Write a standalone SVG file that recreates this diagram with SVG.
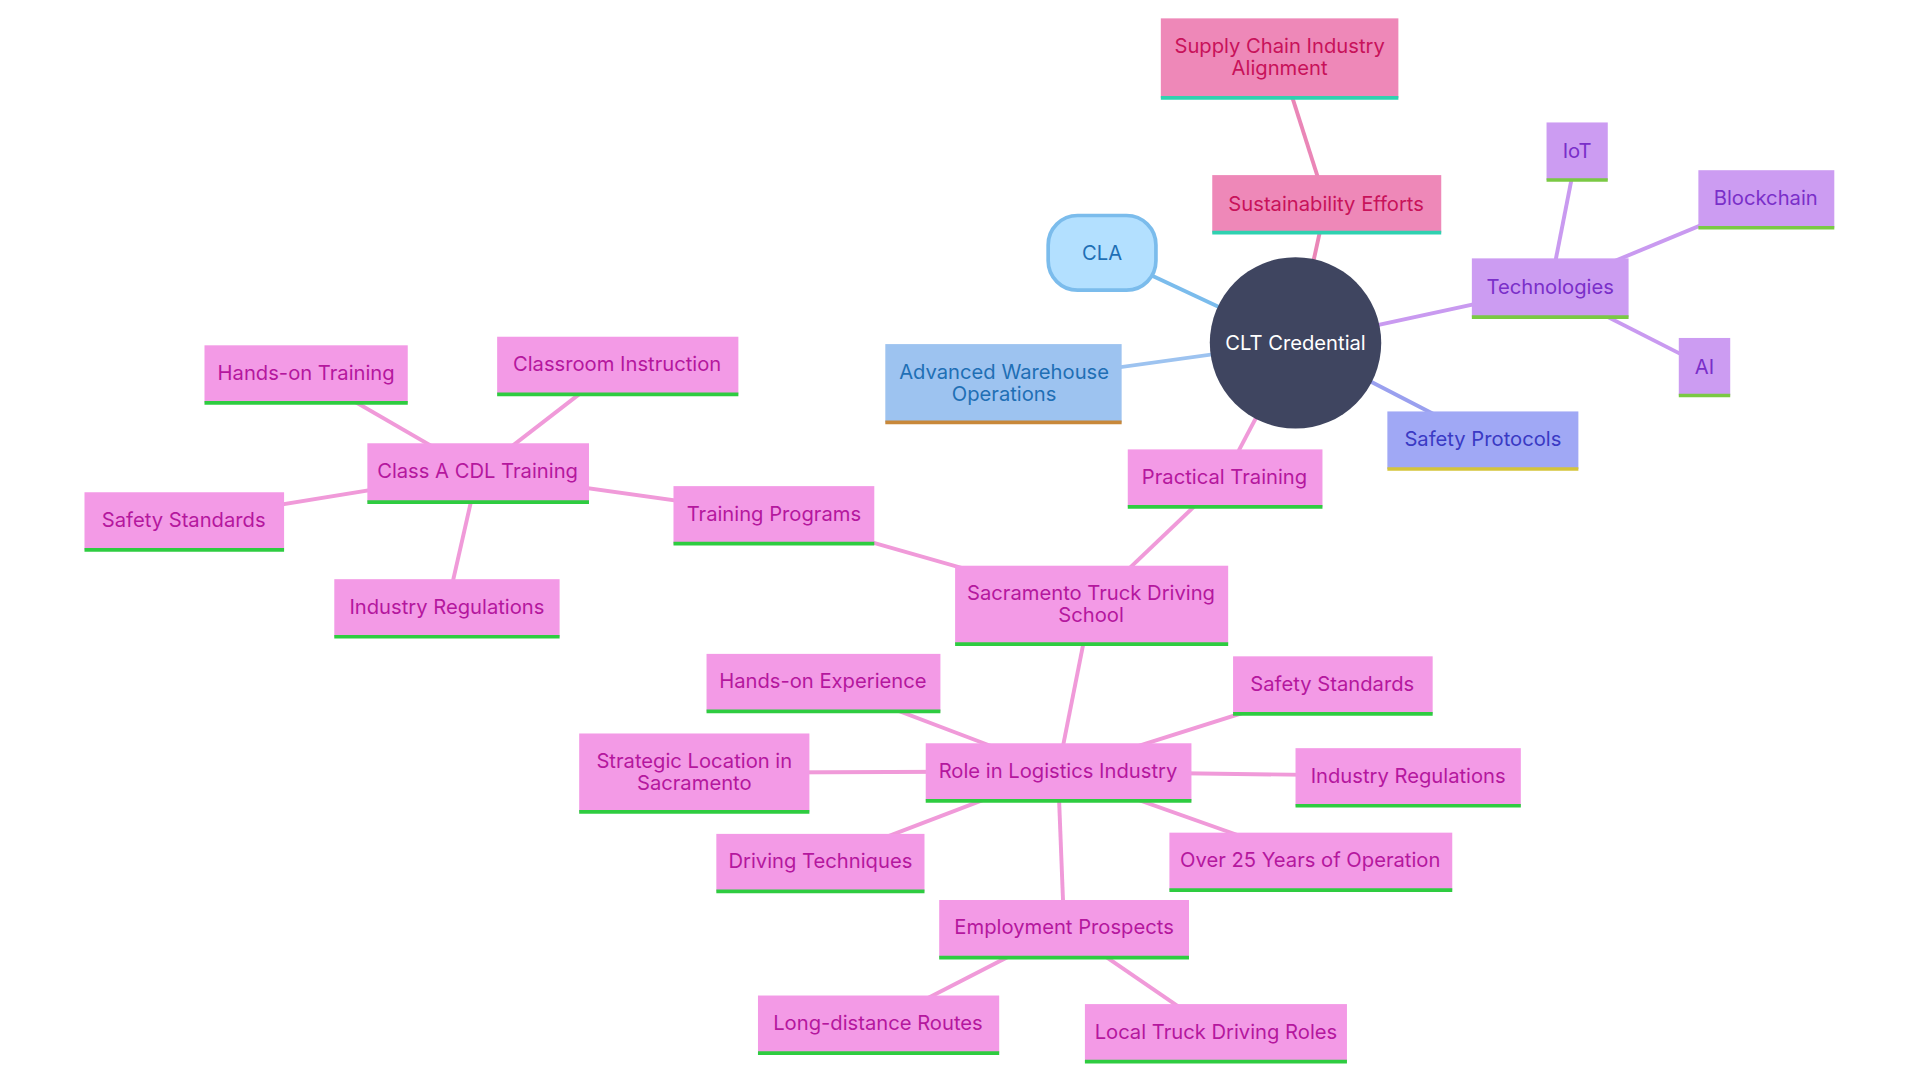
<svg xmlns="http://www.w3.org/2000/svg" width="1920" height="1080" viewBox="0 0 1920 1080">
<style>
text{font-family:Inter,"Noto Sans",sans-serif;font-size:16.5px;text-anchor:middle;dominant-baseline:central}
.p rect{fill:#f39ae6}.p text{fill:#b5179e}.p line{stroke:#2ecc40}
.v rect{fill:#cc9cf2}.v text{fill:#7a2fc9}.v line{stroke:#7ac943}
.r rect{fill:#ee88b8}.r text{fill:#c8125a}.r line{stroke:#2fd1b0}
.bl line{stroke-width:3}
#edges line{stroke-width:3.2;fill:none}
</style>
<rect width="1920" height="1080" fill="#fff"/>
<g transform="scale(1.2245)">
<g id="edges">
<line x1="1058" y1="280" x2="900" y2="206" stroke="#7bbcec"/>
<line x1="1058" y1="280" x2="820" y2="313" stroke="#9dc3f0"/>
<line x1="1058" y1="280" x2="1083" y2="166" stroke="#ea86b7"/>
<line x1="1083" y1="166" x2="1045" y2="47" stroke="#ea86b7"/>
<line x1="1058" y1="280" x2="1266" y2="235" stroke="#c99af0"/>
<line x1="1266" y1="235" x2="1288" y2="123" stroke="#c99af0"/>
<line x1="1266" y1="235" x2="1442" y2="162" stroke="#c99af0"/>
<line x1="1266" y1="235" x2="1392" y2="299" stroke="#c99af0"/>
<line x1="1058" y1="280" x2="1211" y2="359" stroke="#9aa0ef"/>
<g stroke="#f09ad9">
<line x1="1058" y1="280" x2="1000" y2="390"/>
<line x1="1000" y1="390" x2="891" y2="494"/>
<line x1="891" y1="494" x2="632" y2="420"/>
<line x1="632" y1="420" x2="390" y2="386"/>
<line x1="390" y1="386" x2="250" y2="305"/>
<line x1="390" y1="386" x2="504" y2="298"/>
<line x1="390" y1="386" x2="150" y2="425"/>
<line x1="390" y1="386" x2="365" y2="496"/>
<line x1="891" y1="494" x2="864" y2="630"/>
<line x1="864" y1="630" x2="672" y2="557"/>
<line x1="864" y1="630" x2="1088" y2="559"/>
<line x1="864" y1="630" x2="567" y2="631"/>
<line x1="864" y1="630" x2="1150" y2="634"/>
<line x1="864" y1="630" x2="670" y2="704"/>
<line x1="864" y1="630" x2="1070" y2="703"/>
<line x1="864" y1="630" x2="869" y2="758"/>
<line x1="869" y1="758" x2="717" y2="836"/>
<line x1="869" y1="758" x2="993" y2="843"/>
</g>
</g>
<g id="clt"><circle cx="1058" cy="280" r="70" fill="#3f4560"/><text x="1058" y="280" style="fill:#fff">CLT Credential</text></g>
<g id="cla"><rect x="856" y="176" width="88" height="61" rx="24" fill="#b3e0ff" stroke="#7bbcec" stroke-width="3"/><text x="900" y="206" fill="#1f6fb5">CLA</text></g>
<g id="awo"><rect x="723" y="281" width="193" height="64" fill="#9dc3f0"/><line x1="723" y1="345" x2="916" y2="345" stroke="#c8883a" stroke-width="3"/><text x="820" y="303" fill="#1f6fb5">Advanced Warehouse</text><text x="820" y="321" fill="#1f6fb5">Operations</text></g>
<g id="sust" class="r bl"><rect x="990" y="143" width="187" height="47"/><line x1="990" y1="190" x2="1177" y2="190"/><text x="1083" y="166">Sustainability Efforts</text></g>
<g id="supply" class="r bl"><rect x="948" y="15" width="194" height="65"/><line x1="948" y1="80" x2="1142" y2="80"/><text x="1045" y="37">Supply Chain Industry</text><text x="1045" y="55">Alignment</text></g>
<g id="tech" class="v bl"><rect x="1202" y="211" width="128" height="48"/><line x1="1202" y1="259" x2="1330" y2="259"/><text x="1266" y="234">Technologies</text></g>
<g id="iot" class="v bl"><rect x="1263" y="100" width="50" height="47"/><line x1="1263" y1="147" x2="1313" y2="147"/><text x="1288" y="123">IoT</text></g>
<g id="bc" class="v bl"><rect x="1387" y="139" width="111" height="47"/><line x1="1387" y1="186" x2="1498" y2="186"/><text x="1442" y="161">Blockchain</text></g>
<g id="ai" class="v bl"><rect x="1371" y="276" width="42" height="47"/><line x1="1371" y1="323" x2="1413" y2="323"/><text x="1392" y="299">AI</text></g>
<g id="safety" class="bl"><rect x="1133" y="336" width="156" height="47" fill="#a0a8f5"/><line x1="1133" y1="383" x2="1289" y2="383" stroke="#d4c43a"/><text x="1211" y="358" fill="#3a3ac4">Safety Protocols</text></g>
<g id="pt" class="p bl"><rect x="921" y="367" width="159" height="47"/><line x1="921" y1="414" x2="1080" y2="414"/><text x="1000" y="389">Practical Training</text></g>
<g id="stds" class="p bl"><rect x="780" y="462" width="223" height="64"/><line x1="780" y1="526" x2="1003" y2="526"/><text x="891" y="484">Sacramento Truck Driving</text><text x="891" y="502">School</text></g>
<g id="tp" class="p bl"><rect x="550" y="397" width="164" height="47"/><line x1="550" y1="444" x2="714" y2="444"/><text x="632" y="419">Training Programs</text></g>
<g id="cdl" class="p bl"><rect x="300" y="362" width="181" height="48"/><line x1="300" y1="410" x2="481" y2="410"/><text x="390" y="384">Class A CDL Training</text></g>
<g id="hot" class="p bl"><rect x="167" y="282" width="166" height="47"/><line x1="167" y1="329" x2="333" y2="329"/><text x="250" y="304">Hands-on Training</text></g>
<g id="ci" class="p bl"><rect x="406" y="275" width="197" height="47"/><line x1="406" y1="322" x2="603" y2="322"/><text x="504" y="297">Classroom Instruction</text></g>
<g id="ss1" class="p bl"><rect x="69" y="402" width="163" height="47"/><line x1="69" y1="449" x2="232" y2="449"/><text x="150" y="424">Safety Standards</text></g>
<g id="ir1" class="p bl"><rect x="273" y="473" width="184" height="47"/><line x1="273" y1="520" x2="457" y2="520"/><text x="365" y="495">Industry Regulations</text></g>
<g id="role" class="p bl"><rect x="756" y="607" width="217" height="47"/><line x1="756" y1="654" x2="973" y2="654"/><text x="864" y="629">Role in Logistics Industry</text></g>
<g id="hoe" class="p bl"><rect x="577" y="534" width="191" height="47"/><line x1="577" y1="581" x2="768" y2="581"/><text x="672" y="556">Hands-on Experience</text></g>
<g id="ss2" class="p bl"><rect x="1007" y="536" width="163" height="47"/><line x1="1007" y1="583" x2="1170" y2="583"/><text x="1088" y="558">Safety Standards</text></g>
<g id="sl" class="p bl"><rect x="473" y="599" width="188" height="64"/><line x1="473" y1="663" x2="661" y2="663"/><text x="567" y="621">Strategic Location in</text><text x="567" y="639">Sacramento</text></g>
<g id="ir2" class="p bl"><rect x="1058" y="611" width="184" height="47"/><line x1="1058" y1="658" x2="1242" y2="658"/><text x="1150" y="633">Industry Regulations</text></g>
<g id="dt" class="p bl"><rect x="585" y="681" width="170" height="47"/><line x1="585" y1="728" x2="755" y2="728"/><text x="670" y="703">Driving Techniques</text></g>
<g id="o25" class="p bl"><rect x="955" y="680" width="231" height="47"/><line x1="955" y1="727" x2="1186" y2="727"/><text x="1070" y="702">Over 25 Years of Operation</text></g>
<g id="ep" class="p bl"><rect x="767" y="735" width="204" height="47"/><line x1="767" y1="782" x2="971" y2="782"/><text x="869" y="757">Employment Prospects</text></g>
<g id="ldr" class="p bl"><rect x="619" y="813" width="197" height="47"/><line x1="619" y1="860" x2="816" y2="860"/><text x="717" y="835">Long-distance Routes</text></g>
<g id="ltd" class="p bl"><rect x="886" y="820" width="214" height="47"/><line x1="886" y1="867" x2="1100" y2="867"/><text x="993" y="842">Local Truck Driving Roles</text></g>
</g>
</svg>
